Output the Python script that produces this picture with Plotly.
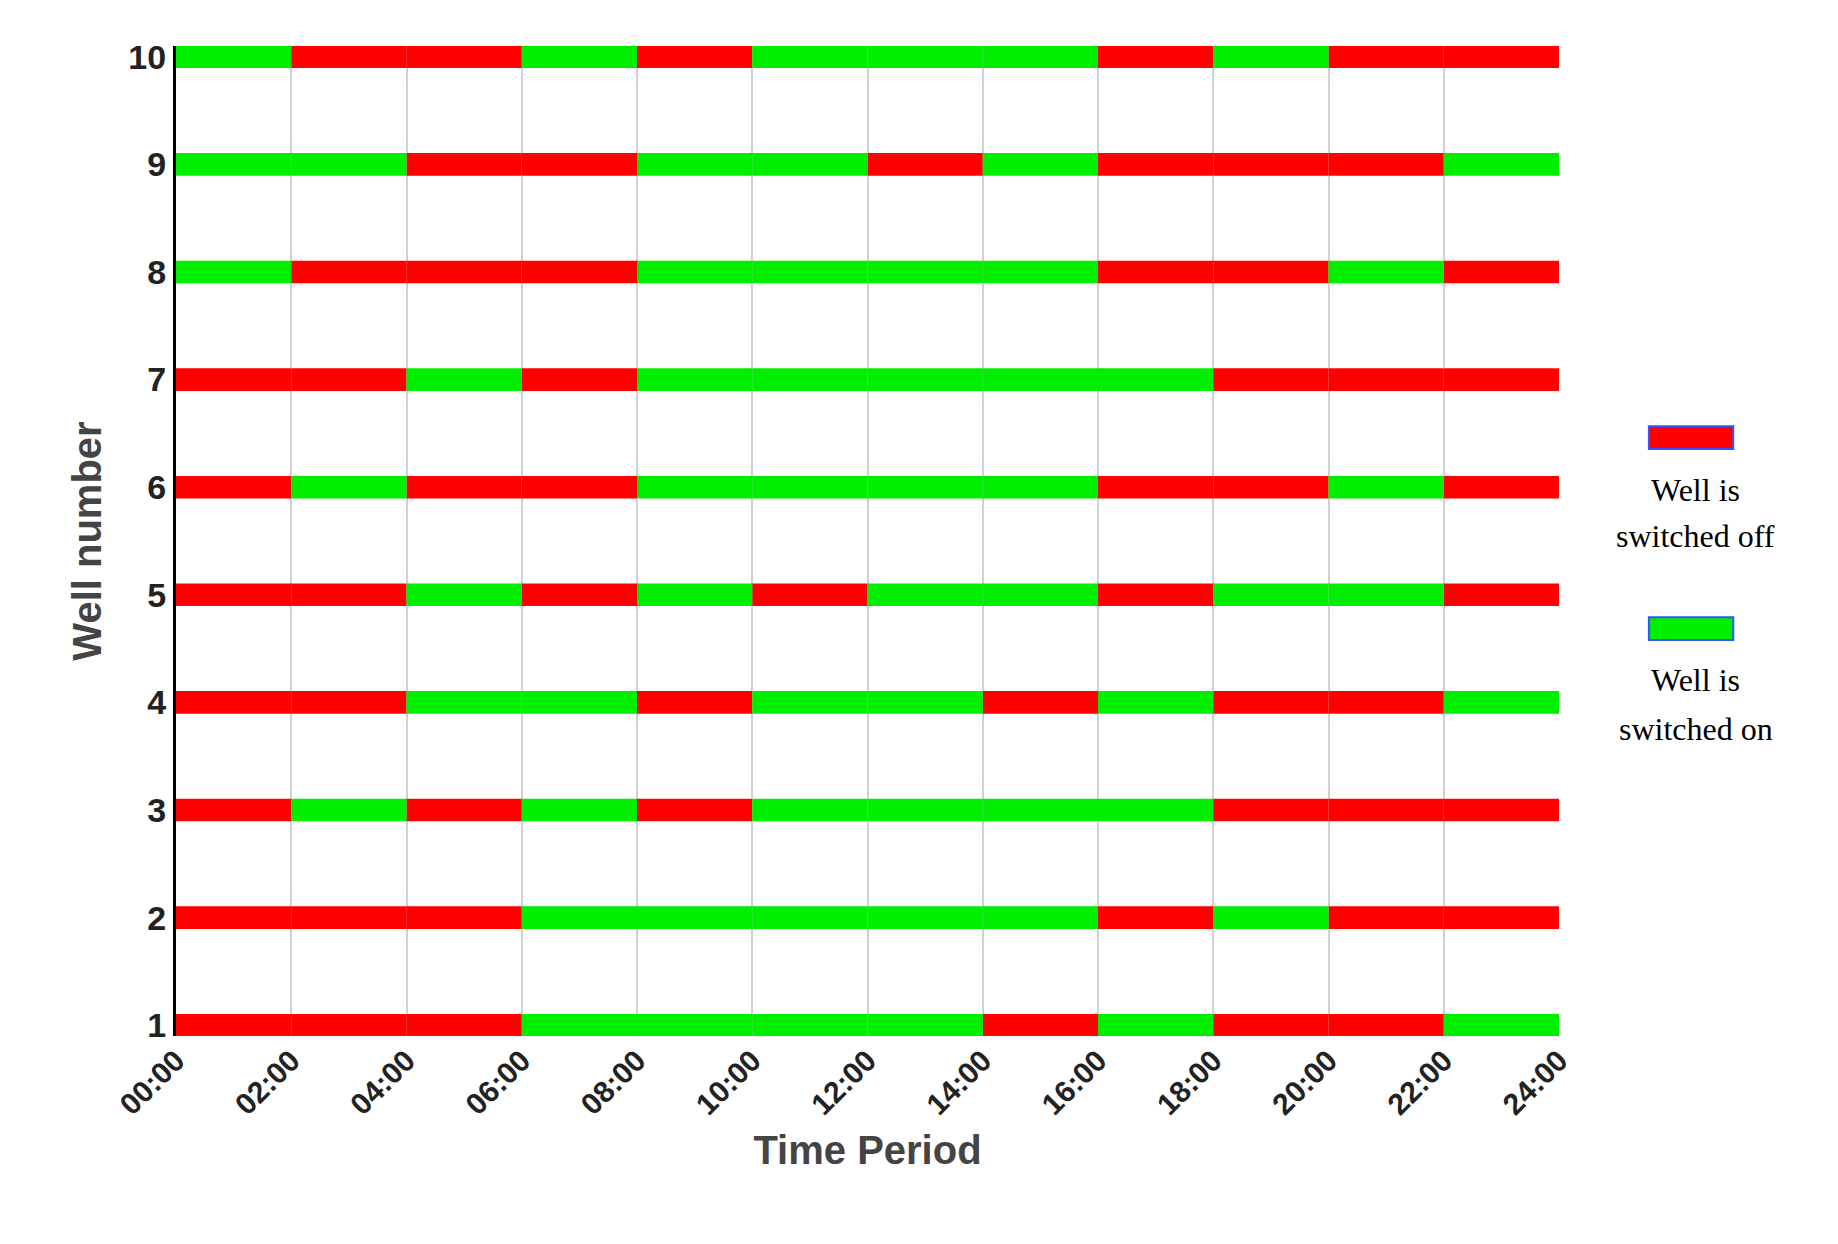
import plotly.graph_objects as go

wells = [1, 2, 3, 4, 5, 6, 7, 8, 9, 10]
tick_labels = ["00:00","02:00","04:00","06:00","08:00","10:00","12:00","14:00","16:00","18:00","20:00","22:00","24:00"]
# state per 2-hour slot (1 = switched on, 0 = switched off)
state_w1  = [0,0,0,1,1,1,1,0,1,0,0,1]
state_w2  = [0,0,0,1,1,1,1,1,0,1,0,0]
state_w3  = [0,1,0,1,0,1,1,1,1,0,0,0]
state_w4  = [0,0,1,1,0,1,1,0,1,0,0,1]
state_w5  = [0,0,1,0,1,0,1,1,0,1,1,0]
state_w6  = [0,1,0,0,1,1,1,1,0,0,1,0]
state_w7  = [0,0,1,0,1,1,1,1,1,0,0,0]
state_w8  = [1,0,0,0,1,1,1,1,0,0,1,0]
state_w9  = [1,1,0,0,1,1,0,1,0,0,0,1]
state_w10 = [1,0,0,1,0,1,1,1,0,1,0,0]
states = [state_w1, state_w2, state_w3, state_w4, state_w5,
          state_w6, state_w7, state_w8, state_w9, state_w10]
slot_hours = 2

fig = go.Figure()
for val, color, name in [(0, "#ff0000", "Well is switched off"), (1, "#00ee00", "Well is switched on")]:
    xs, ys, bases = [], [], []
    for w, st in zip(wells, states):
        for i, s in enumerate(st):
            if s == val:
                xs.append(slot_hours); ys.append(w); bases.append(i * slot_hours)
    fig.add_trace(go.Bar(x=xs, y=ys, base=bases, orientation="h", width=0.21,
                         marker=dict(color=color, line=dict(width=0)), name=name,
                         showlegend=False))

fig.update_layout(
    width=1838, height=1244, plot_bgcolor="white", paper_bgcolor="white",
    margin=dict(l=168, r=287, t=38, b=216), barmode="overlay",
    font=dict(family="Liberation Sans, Arial", color="#222"),
    xaxis=dict(range=[0, 24], tickvals=list(range(0, 25, 2)), ticktext=tick_labels,
               tickangle=-45, showgrid=True, gridcolor="#d0d0d0", gridwidth=2,
               zeroline=False, showline=False,
               tickfont=dict(size=30, family="Liberation Sans, Arial", color="#222", weight="bold"),
               title=dict(text="Time Period", font=dict(size=40, color="#444", weight="bold"))),
    yaxis=dict(range=[0.9, 10.1], tickvals=wells, showgrid=False, zeroline=False,
               showline=True, linecolor="black", linewidth=3,
               tickfont=dict(size=34, color="#222", weight="bold"),
               title=dict(text="Well number", font=dict(size=40, color="#444", weight="bold"))),
)
for (y0, y1, c) in [(0.593, 0.616, "#ff0000"), (0.400, 0.423, "#00ee00")]:
    fig.add_shape(type="rect", xref="paper", yref="paper", x0=1.065, x1=1.126,
                  y0=y0, y1=y1, fillcolor=c, line=dict(color="#3355ff", width=2))
for txt, yy in [("Well is", 0.552), ("switched off", 0.505), ("Well is", 0.360), ("switched on", 0.310)]:
    fig.add_annotation(xref="paper", yref="paper", x=1.099, y=yy, text=txt, showarrow=False,
                       xanchor="center", yanchor="middle",
                       font=dict(family="Liberation Serif, DejaVu Serif", size=32, color="black"))
fig.write_html("out.html")
